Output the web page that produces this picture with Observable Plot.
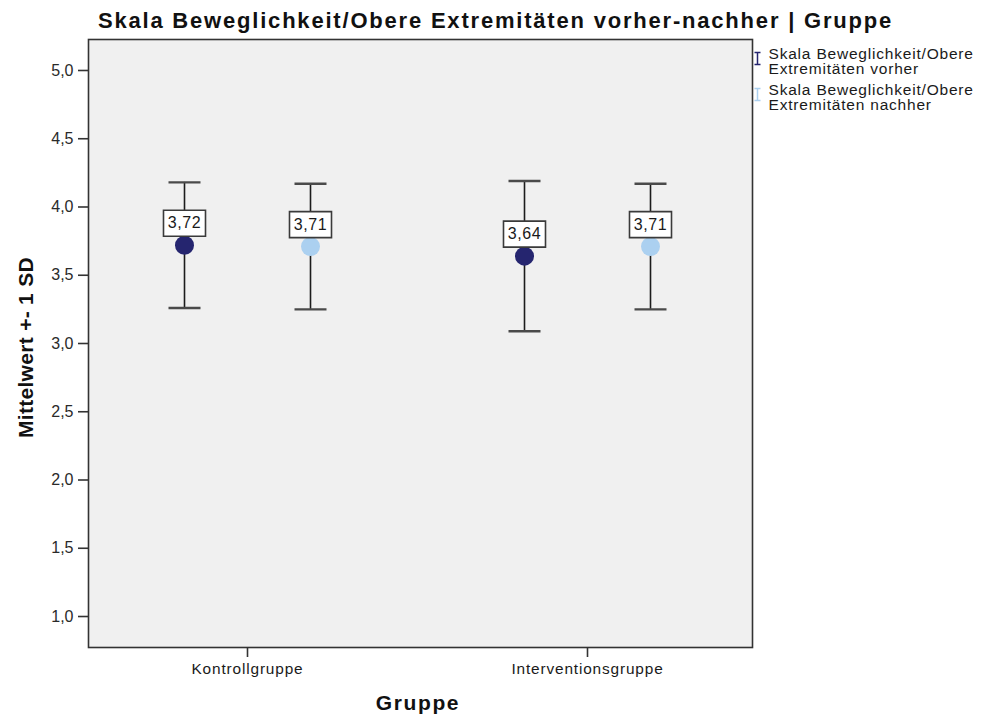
<!DOCTYPE html>
<html>
<head>
<meta charset="utf-8">
<script src="https://cdn.jsdelivr.net/npm/d3@7"></script>
<script src="https://cdn.jsdelivr.net/npm/@observablehq/plot@0.6"></script>
<style>
  body { margin: 0; background: #fff; }
  #chart svg { display: block; }
  g[aria-description="title"] text { letter-spacing: 1.8px; }
  g[aria-description="legend text"] text { letter-spacing: 0.8px; }
  g[aria-label="x-axis tick label"] text { letter-spacing: 0.85px; }
  g[aria-description="value label"] text { letter-spacing: 0.6px; }
  g[aria-description="x label"] text { letter-spacing: 1.6px; }
  g[aria-description="y label"] text { letter-spacing: 0.3px; }
</style>
</head>
<body>
<div id="chart"></div>
<script>
// ---- data ----
const groups = ["Kontrollgruppe", "Interventionsgruppe"];
const seriesLabels = [
  "Skala Beweglichkeit/Obere\nExtremitäten vorher",
  "Skala Beweglichkeit/Obere\nExtremitäten nachher"
];
const meanVorher = [3.72, 3.64];
const sdVorher = [0.46, 0.55];
const meanNachher = [3.71, 3.71];
const sdNachher = [0.46, 0.46];
const yTickValues = [1.0, 1.5, 2.0, 2.5, 3.0, 3.5, 4.0, 4.5, 5.0];
const titleText = "Skala Beweglichkeit/Obere Extremitäten vorher-nachher | Gruppe";
const yLabelText = "Mittelwert +- 1 SD";
const xLabelText = "Gruppe";

// ---- styles ----
const colors = ["#25256f", "#abd0f0"];
const offsets = [-63, 63];
const font = "'Liberation Sans', Arial, sans-serif";

const toRows = (means, sds) => groups.map((g, i) => ({
  group: g, mean: means[i], lo: means[i] - sds[i], hi: means[i] + sds[i]
}));
const series = [toRows(meanVorher, sdVorher), toRows(meanNachher, sdNachher)];

const capSymbol = { draw(ctx) { ctx.moveTo(-16, 0); ctx.lineTo(16, 0); } };
const boxSymbol = { draw(ctx) { ctx.rect(-21, -13, 42, 26); } };
const legendSymbol = { draw(ctx) {
  ctx.moveTo(-3, -6); ctx.lineTo(3, -6);
  ctx.moveTo(0, -6); ctx.lineTo(0, 6);
  ctx.moveTo(-3, 6); ctx.lineTo(3, 6);
} };
const fmt2 = d => d.toFixed(2).replace(".", ",");
const fmt1 = d => d.toFixed(1).replace(".", ",");

function seriesMarks(data, color, dx) {
  return [
    Plot.ruleX(data, {x: "group", y1: "lo", y2: "hi", dx, stroke: "#1c1c1c", strokeWidth: 1.6}),
    Plot.dot(data, {x: "group", y: "hi", dx, symbol: capSymbol, fill: "none", stroke: "#4a4a4a", strokeWidth: 2.4}),
    Plot.dot(data, {x: "group", y: "lo", dx, symbol: capSymbol, fill: "none", stroke: "#4a4a4a", strokeWidth: 2.4}),
    Plot.dot(data, {x: "group", y: "mean", dx, r: 9.5, fill: color, stroke: "none"}),
    Plot.dot(data, {x: "group", y: "mean", dx, dy: -22, symbol: boxSymbol, fill: "white", stroke: "#3a3a3a", strokeWidth: 1.6}),
    Plot.text(data, {x: "group", y: "mean", dx, dy: -22, text: d => fmt2(d.mean), fontSize: 16, fill: "#1a1a1a", textAnchor: "middle", lineAnchor: "middle", ariaDescription: "value label"})
  ];
}

const chart = Plot.plot({
  width: 981,
  height: 719,
  marginTop: 39,
  marginBottom: 72,
  marginLeft: 88,
  marginRight: 229,
  style: {fontFamily: font, color: "#1a1a1a", background: "white"},
  x: {type: "point", domain: groups, padding: 0.476, align: 0.49},
  y: {domain: [0.773, 5.227]},
  marks: [
    Plot.frame({fill: "#f0f0f0", stroke: "#333", strokeWidth: 1.6}),
    Plot.axisY({ticks: yTickValues, tickFormat: fmt1, tickSize: 10, tickPadding: 5, fontSize: 16, label: null, stroke: "#333", strokeWidth: 1.6, fill: "#2a2a2a"}),
    Plot.axisX({tickSize: 10, tickPadding: 6, fontSize: 15.4, label: null, stroke: "#333", strokeWidth: 1.6, fill: "#1a1a1a"}),
    ...seriesMarks(series[0], colors[0], offsets[0]),
    ...seriesMarks(series[1], colors[1], offsets[1]),
    Plot.text([titleText], {frameAnchor: "top", dx: 75, dy: -19, fontSize: 22, fontWeight: "bold", textAnchor: "middle", lineAnchor: "middle", fill: "#111", ariaDescription: "title"}),
    Plot.text([yLabelText], {frameAnchor: "left", dx: -62.5, dy: 4, rotate: -90, fontSize: 21, fontWeight: "bold", textAnchor: "middle", lineAnchor: "middle", fill: "#111", ariaDescription: "y label"}),
    Plot.text([xLabelText], {frameAnchor: "bottom", dx: -2.5, dy: 55.5, fontSize: 21, fontWeight: "bold", textAnchor: "middle", lineAnchor: "middle", fill: "#111", ariaDescription: "x label"}),
    Plot.dot([seriesLabels[0]], {frameAnchor: "top-right", dx: 5, dy: 19, symbol: legendSymbol, fill: "none", stroke: colors[0], strokeWidth: 1.5}),
    Plot.dot([seriesLabels[1]], {frameAnchor: "top-right", dx: 5, dy: 55, symbol: legendSymbol, fill: "none", stroke: colors[1], strokeWidth: 1.5}),
    Plot.text([seriesLabels[0]], {frameAnchor: "top-right", dx: 16, dy: 8, text: d => d, textAnchor: "start", lineAnchor: "top", fontSize: 15.5, lineHeight: 1.0, fill: "#1a1a1a", ariaDescription: "legend text"}),
    Plot.text([seriesLabels[1]], {frameAnchor: "top-right", dx: 16, dy: 44, text: d => d, textAnchor: "start", lineAnchor: "top", fontSize: 15.5, lineHeight: 1.0, fill: "#1a1a1a", ariaDescription: "legend text"})
  ]
});
document.getElementById("chart").appendChild(chart);
</script>
</body>
</html>
